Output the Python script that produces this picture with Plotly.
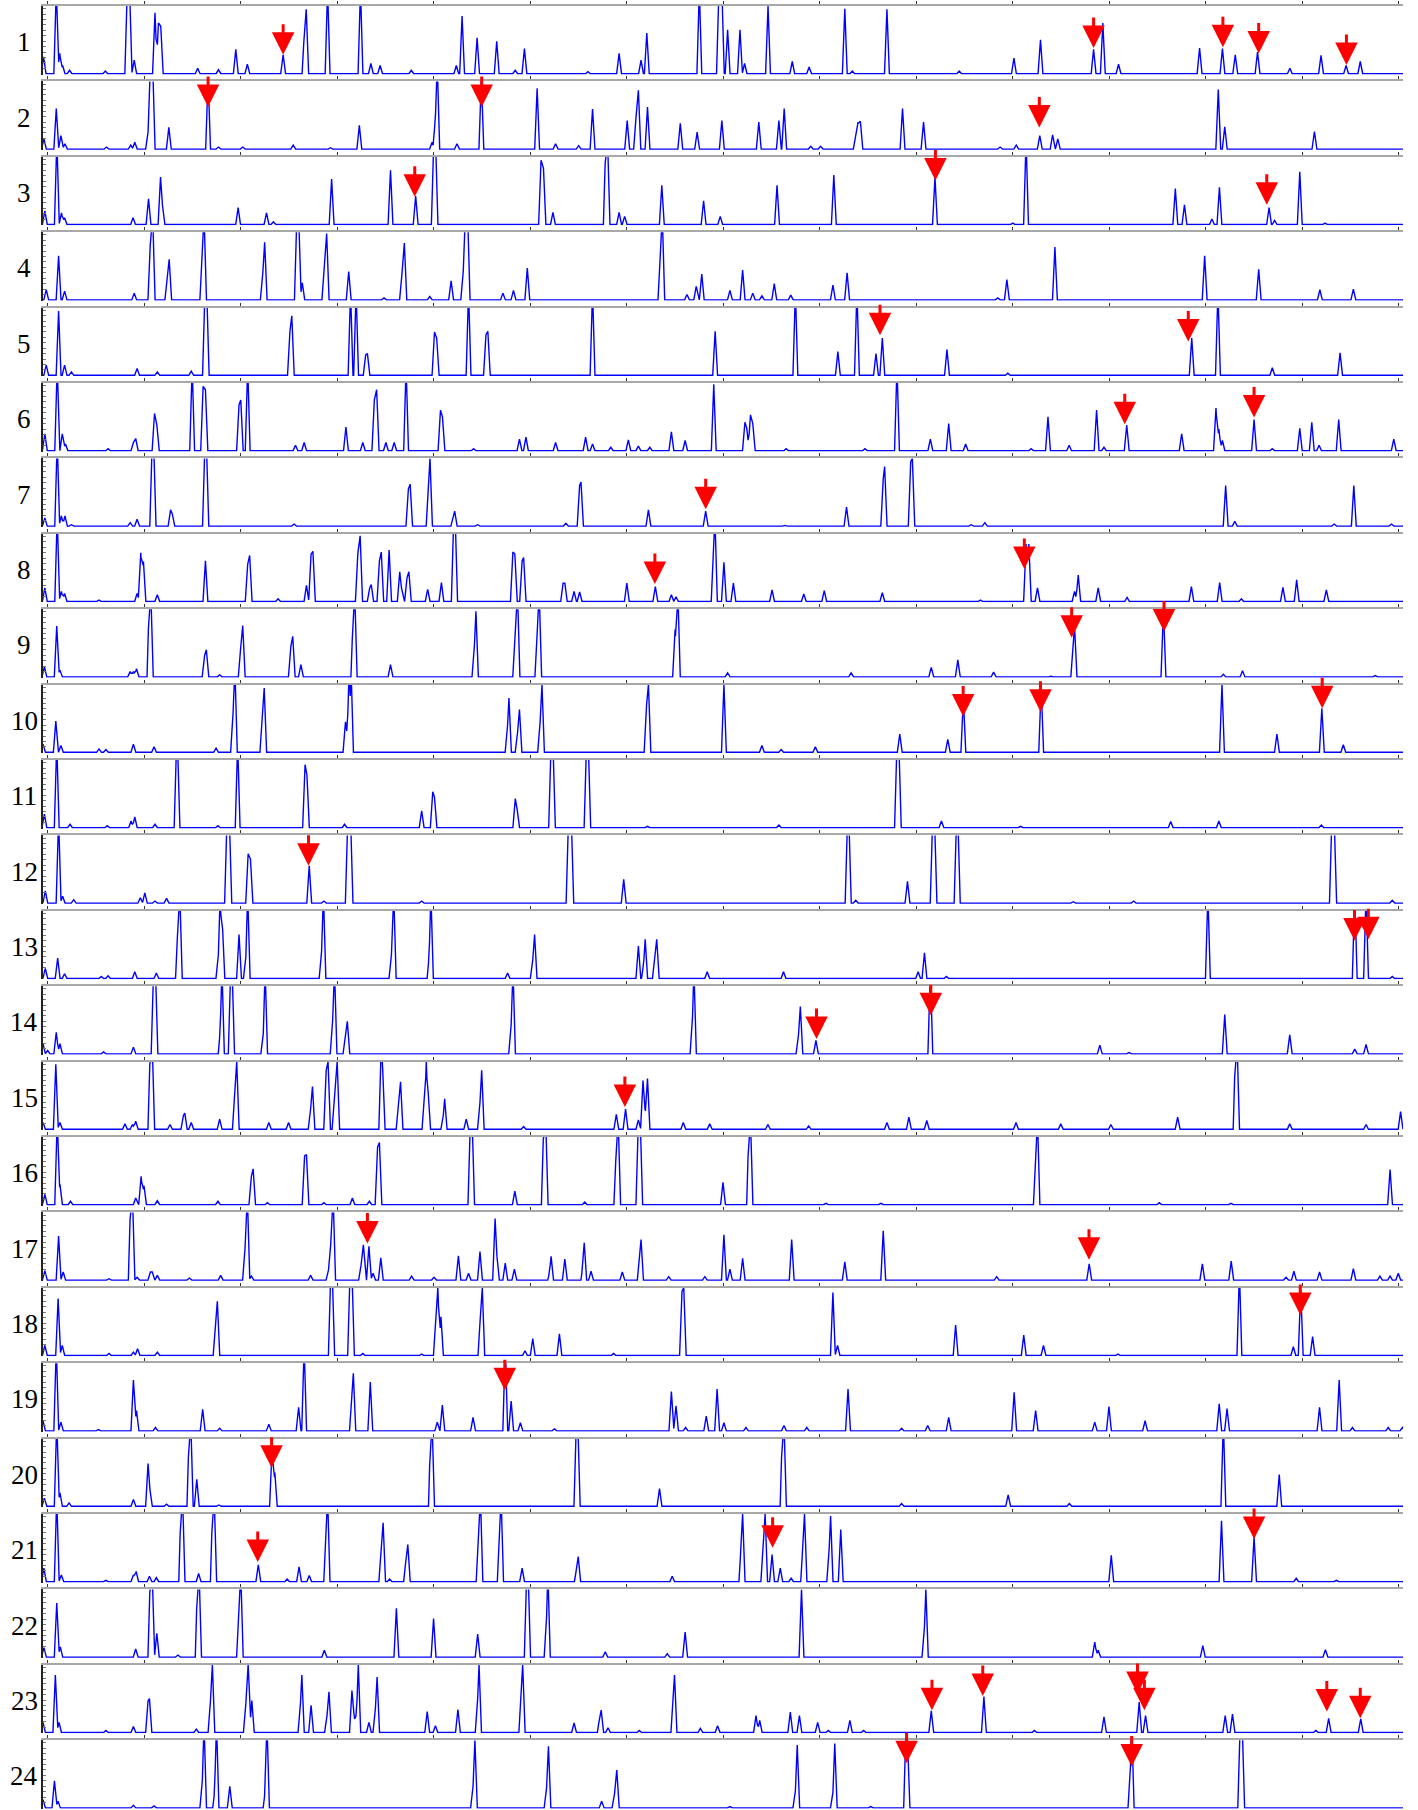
import numpy as np
import plotly.graph_objects as go

# ---------------------------------------------------------------
# Data: peaks per chromatogram row as (retention position, relative height)
# heights are relative to the panel height (values > 1 are off-scale / clipped)
# ---------------------------------------------------------------
peaks_01 = [(37.5,0.25),(48.5,1.25),(51.5,0.3),(54,0.12),(60,0.05),(91,0.04),(110,1.25),(112,1.25),(116,0.2),
            (134,0.9),(137,0.75),(139,0.7),(171,0.08),(189,0.06),(204,0.36),(214,0.14),(245,0.28),(263.5,0.65),
            (265,0.95),(283.5,1.25),(312,1.25),(321,0.15),(329,0.12),(356,0.05),(395,0.12),(400,0.85),(413,0.53),
            (430,0.48),(446,0.05),(454,0.37),(509,0.03),(536,0.3),(555,0.2),(560,0.6),(605.5,1.25),(622.5,1.25),
            (625,1.25),(630,0.65),(640.7,0.65),(644.7,0.15),(665,1.0),(686,0.18),(700.6,0.1),(731.5,0.96),(738,0.04),
            (768,0.95),(830.6,0.04),(878,0.23),(901,0.5),(947,0.36),(955,0.75),(968.6,0.14),(1038.8,0.38),
            (1058.6,0.37),(1069.7,0.28),(1089,0.32),(1117,0.08),(1144,0.27),(1165.7,0.12),(1178,0.18)]
peaks_02 = [(37.8,0.15),(48.5,0.6),(52.5,0.2),(56,0.08),(92,0.03),(113,0.06),(116.5,0.1),(128,0.25),(130,1.25),
            (132,1.25),(146,0.32),(180,1.05),(189,0.03),(210,0.03),(253.7,0.06),(286,0.02),(311,0.35),(374,0.1),
            (377,0.52),(378.5,1.25),(395.6,0.08),(416.7,1.05),(465,0.9),(481,0.08),(501,0.05),(513,0.59),(543,0.42),
            (550.7,0.48),(552.7,0.87),(560.6,0.62),(589,0.38),(603.6,0.25),(625,0.42),(657,0.4),(674.4,0.42),
            (679,0.6),(702,0.04),(710.5,0.04),(741,0.19),(743,0.4),(745,0.41),(781.5,0.6),(799.7,0.4),(866,0.03),
            (880,0.06),(900.4,0.2),(911.5,0.21),(916,0.15),(1055,0.88),(1060.6,0.33),(1138.3,0.26)]
peaks_03 = [(38.6,0.2),(49,1.25),(53,0.17),(55.7,0.1),(115,0.1),(128.4,0.38),(138.8,0.7),(140.5,0.28),(206,0.25),
            (230.6,0.17),(236.6,0.04),(287,0.67),(338,0.8),(359.8,0.42),(375.5,1.25),(377,1.25),(468.4,0.95),
            (470.5,0.83),(478.7,0.18),(524.5,1.25),(526,1.25),(536,0.18),(540.8,0.12),(573,0.58),(609.2,0.35),
            (623.6,0.12),(672.8,0.58),(722,0.73),(809.6,0.7),(877,0.02),(888.5,1.25),(1017.8,0.53),(1025.7,0.29),
            (1049.5,0.08),(1056,0.55),(1099,0.25),(1103.8,0.06),(1125.6,0.78),(1147.5,0.02)]
peaks_04 = [(39.8,0.15),(50.5,0.65),(55.7,0.13),(116,0.1),(130,0.85),(132,1.25),(144.7,0.4),(146.3,0.6),(175,0.72),
            (176.5,1.25),(227.4,0.4),(229,0.85),(256.9,1.25),(258.4,1.25),(261.6,0.25),(280.7,0.5),(282.7,0.98),
            (301.8,0.42),(332.4,0.03),(348,0.4),(350,0.84),(372,0.05),(390.5,0.28),(401,0.42),(402.8,1.25),
            (404.8,1.25),(435.4,0.1),(444.5,0.14),(456.5,0.47),(571.8,0.7),(573.4,1.25),(594.8,0.08),(602.8,0.2),
            (607.6,0.38),(632,0.14),(643,0.44),(651.8,0.1),(659.7,0.06),(670.4,0.24),(684.7,0.07),(721.2,0.22),
            (733.5,0.4),(864,0.03),(871.9,0.3),(913.5,0.78),(1043.2,0.65),(1090,0.45),(1143,0.15),(1172,0.16)]
peaks_05 = [(39.8,0.15),(50.5,0.95),(55.7,0.15),(61.6,0.05),(118.5,0.1),(136,0.05),(165.4,0.06),(177.3,1.25),
            (178.8,1.25),(250.9,0.65),(252.5,0.88),(303.4,1.25),(308.2,1.25),(316.5,0.3),(318,0.32),(376.1,0.64),
            (378,0.55),(405.6,1.25),(420.7,0.6),(422.3,0.65),(513,1.25),(619.2,0.65),(688.7,1.25),(725.5,0.35),
            (742,1.25),(758.5,0.32),(764,0.55),(820,0.38),(872.7,0.03),(1032,0.55),(1054.7,1.25),(1101.8,0.11),
            (1160.5,0.33)]
peaks_06 = [(38.6,0.25),(49.3,1.25),(53.7,0.25),(56.5,0.1),(93.4,0.03),(115.3,0.12),(117.3,0.18),(133.6,0.55),
            (135.6,0.38),(166.2,1.25),(175.7,0.95),(177.7,0.9),(206.8,0.68),(208.3,0.75),(214.3,1.25),(255.7,0.08),
            (263.2,0.12),(299.4,0.35),(314,0.12),(324,0.75),(326,0.9),(334,0.12),(341.2,0.12),(351.5,1.25),
            (381.3,0.6),(383,0.5),(410,0.03),(449.7,0.17),(455.3,0.2),(481,0.12),(507,0.2),(513,0.1),(528.8,0.05),
            (544,0.16),(552.7,0.07),(562.6,0.05),(581.3,0.28),(593.2,0.15),(618,0.98),(645,0.42),(646.6,0.33),
            (649.8,0.53),(651.8,0.4),(680.7,0.03),(749,0.03),(776.7,1.25),(805.6,0.17),(821.5,0.4),(836.2,0.1),
            (892.9,0.03),(907.5,0.5),(925.8,0.08),(949.6,0.6),(956,0.05),(975.7,0.38),(1023.3,0.25),(1053,0.63),
            (1055.5,0.32),(1058.6,0.15),(1086,0.46),(1101.8,0.03),(1125.6,0.33),(1136,0.42),(1142.3,0.08),
            (1159.3,0.46),(1207,0.17)]
peaks_07 = [(38.6,0.12),(49.3,1.25),(52.9,0.15),(56,0.15),(61.6,0.02),(112.5,0.05),(118.5,0.1),(131.6,1.25),
            (132.8,1.25),(147.5,0.24),(149,0.18),(177.3,1.25),(178.5,1.25),(254.5,0.03),(353.5,0.55),(355,0.62),
            (371,0.78),(372.2,1.0),(392.4,0.15),(393.6,0.22),(413.5,0.02),(489.9,0.04),(501.8,0.6),(503,0.65),
            (561.4,0.24),(611,0.22),(679.6,0.01),(733,0.28),(764.8,0.7),(766,0.88),(788.6,0.95),(790,1.0),(841,0.02),
            (852.8,0.05),(1061.4,0.6),(1069.3,0.07),(1155.4,0.03),(1172.4,0.6),(1205,0.03)]
peaks_08 = [(38.6,0.2),(49.3,1.25),(52.9,0.15),(55.7,0.12),(85.5,0.02),(118.5,0.12),(121.7,0.72),(124,0.59),
            (136,0.1),(177.7,0.6),(214.3,0.55),(216,0.68),(240.6,0.04),(265.2,0.24),(269.2,0.7),(270.8,0.74),
            (309.7,0.71),(311.7,0.97),(320,0.2),(321.3,0.25),(328.4,0.6),(330,0.73),(336.8,0.76),(346,0.44),
            (347.5,0.2),(352.3,0.35),(353.9,0.44),(370.2,0.18),(382.1,0.28),(392.8,1.25),(394,1.25),(444,0.73),
            (445.7,0.7),(452,0.6),(453.3,0.65),(487.5,0.27),(489,0.27),(497,0.15),(501.8,0.14),(542.7,0.27),
            (567.4,0.22),(581.3,0.1),(585.3,0.07),(617.9,0.7),(619,1.25),(626.8,0.58),(635,0.27),(668.5,0.17),
            (696,0.11),(713.7,0.16),(764,0.13),(849,0.02),(888.5,0.85),(890.9,0.85),(898.4,0.2),(930.5,0.15),
            (933.7,0.39),(951,0.2),(976,0.06),(1031.7,0.22),(1056.2,0.28),(1075,0.04),(1111,0.21),(1122.9,0.32),
            (1148.6,0.17)]
peaks_09 = [(38.2,0.15),(48.9,0.75),(51.7,0.1),(112.5,0.08),(115.3,0.08),(118,0.12),(129.2,1.25),(130.4,1.25),
            (177,0.32),(178.5,0.4),(190,0.03),(208.3,0.45),(210,0.76),(251.7,0.45),(253.3,0.6),(260.4,0.18),
            (305.8,0.98),(307,1.25),(338,0.18),(410.7,0.47),(412,0.97),(446,0.7),(448,1.25),(465.2,0.7),(466.8,1.25),
            (584.5,0.7),(586.9,1.25),(630,0.06),(737,0.06),(806.4,0.14),(829.4,0.25),(860.4,0.07),(910,0.01),
            (929.4,0.5),(930.5,0.75),(1007.5,0.99),(1059.4,0.04),(1076,0.09),(1191,0.02)]
peaks_10 = [(37,0.12),(48.1,0.46),(52.5,0.1),(85.5,0.05),(91.5,0.04),(115.3,0.12),(133.2,0.08),(186.9,0.06),
            (201.6,0.57),(203.2,1.25),(227,0.55),(228.6,0.95),(299,0.45),(301,0.55),(302.2,1.25),(303.8,1.25),
            (439.4,0.4),(440.6,0.8),(448.1,0.3),(449.7,0.63),(467.6,0.45),(469.2,1.0),(559.8,0.7),(561.4,1.0),
            (626.8,1.0),(659.7,0.1),(676.4,0.04),(706,0.08),(779.1,0.27),(820.7,0.19),(834.2,0.8),(901.6,0.98),
            (1058.2,1.0),(1105.8,0.27),(1144.7,0.65),(1163.3,0.11)]
peaks_11 = [(38.2,0.2),(48.9,1.25),(60.4,0.05),(92.6,0.03),(113.3,0.1),(116.5,0.16),(134,0.05),(152.7,1.25),
            (153.5,1.25),(188.5,0.03),(205.6,1.25),(264,0.93),(265.6,0.78),(298.2,0.05),(365,0.25),(374.6,0.53),
            (376.1,0.45),(446.1,0.43),(447.7,0.27),(477.1,1.25),(478.7,1.25),(507.8,1.25),(509.3,1.25),(560.6,0.02),
            (674.4,0.04),(776.7,1.25),(778.3,1.25),(815.2,0.1),(883.8,0.02),(1013.8,0.09),(1055.5,0.1),(1144.3,0.04)]
peaks_12 = [(39,0.18),(50.5,1.25),(54,0.1),(63.6,0.05),(121.3,0.08),(125.2,0.15),(134,0.03),(144,0.07),
            (196.4,1.25),(198.4,1.25),(214.7,0.73),(216.7,0.65),(267.6,0.55),(280.3,0.03),(301,1.25),(303.4,1.25),
            (365,0.03),(492.2,1.25),(494.6,1.25),(540,0.35),(733.9,1.25),(735,1.25),(741,0.04),(785.8,0.32),
            (807.6,1.25),(809.2,1.25),(828.3,1.25),(829.4,1.25),(929.4,0.02),(981.7,0.03),(1153.4,1.25),
            (1155.4,1.25),(1205.7,0.04)]
peaks_13 = [(39,0.15),(49.7,0.3),(55.7,0.07),(87.5,0.03),(93.4,0.04),(116.5,0.1),(135.2,0.08),(153.9,0.8),
            (155.5,1.25),(188.9,0.35),(190.5,1.25),(192.4,0.8),(206.8,0.65),(212.7,0.32),(214.3,1.25),(278.3,0.4),
            (279.9,1.25),(338.8,0.35),(340.8,1.25),(371.8,0.4),(373,1.25),(439.4,0.08),(461.2,0.27),(462.8,0.65),
            (552.7,0.48),(557.5,0.25),(558.6,0.58),(567,0.35),(568.6,0.58),(612.3,0.1),(678.4,0.1),(795,0.1),
            (800.5,0.38),(819.5,0.03),(1046,1.25),(1173.2,1.25),(1183,1.25),(1205.7,0.03)]
peaks_14 = [(37,0.15),(41,0.05),(48.5,0.32),(51.7,0.15),(89.5,0.03),(115.3,0.1),(132.8,1.25),(134.4,1.25),
            (190.9,0.42),(192,1.25),(199.6,1.25),(200.8,1.25),(227.8,0.3),(229.4,1.25),(287.9,0.5),(289.5,1.25),
            (299,0.27),(300.6,0.48),(442.5,0.43),(444.1,1.25),(599.6,0.55),(600.8,1.25),(691.4,0.28),(693,0.7),
            (706.5,0.2),(805.6,1.25),(952.4,0.13),(977.7,0.02),(1060.6,0.58),(1116.9,0.28),(1173.2,0.07),(1183,0.14)]
peaks_15 = [(37,0.1),(48.1,0.96),(51.7,0.1),(108,0.08),(114.5,0.07),(117.3,0.12),(130,1.25),(131.6,1.25),(147,0.07),
            (158.6,0.2),(159.8,0.24),(165.4,0.1),(190,0.15),(203.2,0.65),(204.8,1.0),(232.6,0.1),(249.7,0.1),
            (268.8,0.3),(270.4,0.63),(282.3,0.87),(283.9,1.0),(289.5,0.5),(291.8,1.0),(330,1.25),(331.2,0.9),
            (345,0.4),(346.7,0.7),(367.4,0.45),(369,1.0),(370.6,0.55),(383.7,0.2),(384.9,0.45),(403.6,0.15),
            (415.5,0.4),(417,0.87),(453.3,0.04),(533.6,0.22),(541.6,0.3),(552.7,0.14),(556.7,0.72),(558.6,0.3),
            (560.6,0.75),(591.6,0.1),(614.5,0.08),(664.9,0.07),(700.2,0.05),(768,0.1),(787,0.18),(802.5,0.13),
            (879.8,0.1),(918.6,0.08),(962,0.07),(1019.8,0.18),(1070,1.25),(1071.3,1.25),(1116.9,0.08),(1183,0.07),
            (1212.9,0.26)]
peaks_16 = [(38.6,0.15),(49.3,1.25),(51.7,0.3),(60.8,0.05),(117.3,0.1),(122,0.42),(124.5,0.28),(136,0.06),
            (188.5,0.05),(217.5,0.42),(219,0.53),(231.4,0.03),(263.6,0.72),(265.2,0.74),(280.3,0.03),(305,0.1),
            (319.7,0.05),(326.8,0.85),(328.4,0.92),(407.2,1.25),(408.7,1.25),(445.7,0.2),(470.8,1.25),(472.4,1.25),
            (506.2,0.04),(533.6,0.85),(535.2,1.25),(552.7,1.25),(554.3,1.25),(626,0.33),(648.6,1.25),(649.8,1.25),
            (715.2,0.02),(762.8,0.02),(897,0.9),(898.4,1.25),(1003.9,0.03),(1066,0.02),(1203.8,0.52)]
peaks_17 = [(38.6,0.14),(50.5,0.65),(54.5,0.12),(94.2,0.02),(113,1.25),(114.5,1.25),(118.5,0.04),(130,0.12),
            (131.6,0.12),(136,0.07),(163.8,0.03),(190.9,0.07),(212,0.47),(214,1.25),(217.5,0.06),(268.8,0.07),
            (284.3,0.15),(286.3,0.55),(288.3,1.25),(312.5,0.22),(314.5,0.52),(319.3,0.5),(322.9,0.1),(329.6,0.33),
            (356.3,0.06),(375.7,0.04),(396.8,0.36),(405.6,0.1),(415.5,0.42),(428.6,0.91),(430.2,0.35),(437.4,0.25),
            (445.3,0.16),(476.3,0.15),(477.1,0.35),(489,0.31),(505,0.25),(505.8,0.55),(511.7,0.13),(538.8,0.12),
            (553.9,0.33),(555,0.6),(579,0.05),(610.3,0.05),(626.8,0.67),(632,0.16),(643,0.32),(685.5,0.6),
            (731.5,0.27),(764.8,0.73),(863.1,0.05),(943.2,0.24),(1041.2,0.24),(1066.2,0.28),(1113.7,0.04),
            (1120.5,0.13),(1142.7,0.12),(1172,0.17),(1195,0.06),(1203.8,0.06),(1210.9,0.1)]
peaks_18 = [(38.6,0.15),(50.1,0.84),(53.7,0.15),(94.2,0.03),(115.3,0.05),(118.9,0.1),(136,0.05),(186.5,0.55),
            (188,0.8),(286.3,1.25),(287.5,1.25),(303,1.25),(304.6,1.25),(314,0.03),(365,0.02),(377.3,0.5),(379,1.0),
            (381.7,0.57),(415.9,0.6),(417.5,1.0),(454.5,0.07),(461.2,0.25),(484.3,0.32),(531.2,0.03),(590.5,0.95),
            (592,1.0),(721.2,0.93),(725.2,0.15),(827.5,0.45),(886.5,0.3),(903.6,0.15),(968.2,0.02),(1073.3,1.25),
            (1120,0.13),(1126.4,0.98),(1136.7,0.28)]
peaks_19 = [(37,0.15),(48.5,1.25),(52.5,0.13),(85,0.02),(115.3,0.75),(118,0.3),(134.4,0.05),(175.3,0.32),(190,0.04),
            (232.6,0.1),(258.4,0.35),(263.2,1.25),(304.6,0.65),(305.8,0.85),(320.5,0.72),(378.5,0.13),(382.9,0.38),
            (409.5,0.2),(437.4,1.25),(442.5,0.44),(450.5,0.12),(480,0.03),(581.3,0.58),(585.3,0.37),(593.6,0.05),
            (611.5,0.22),(620.9,0.62),(626.8,0.12),(645.9,0.05),(678.8,0.08),(698.6,0.05),(734.3,0.62),(780.7,0.04),
            (803.3,0.08),(821.5,0.2),(878.2,0.57),(896.8,0.3),(948,0.13),(960.3,0.36),(991.6,0.15),(1055.8,0.4),
            (1062.6,0.33),(1142.7,0.35),(1159.7,0.75),(1171.2,0.05),(1202.2,0.05),(1214.5,0.05)]
peaks_20 = [(38.2,0.12),(48.9,1.25),(51.7,0.2),(59.6,0.05),(115.3,0.1),(128,0.63),(129.6,0.25),(144,0.03),
            (163.8,1.25),(165,1.25),(170.2,0.4),(189.3,0.02),(235.4,0.85),(237.8,0.5),(373,1.25),(374,1.25),
            (499,1.25),(500.2,1.25),(571,0.26),(677.6,1.25),(678.8,1.25),(780.7,0.04),(873,0.17),(926,0.04),
            (1059.4,1.25),(1107.8,0.47)]
peaks_21 = [(37.8,0.2),(48.9,1.25),(52.9,0.1),(91.5,0.02),(115.3,0.1),(117.7,0.15),(129.2,0.08),(135.2,0.06),
            (156.7,1.25),(157.9,1.25),(171.8,0.12),(184.1,1.25),(185.3,1.25),(223.5,0.25),(248.5,0.04),(258.8,0.22),
            (267.6,0.09),(282.3,0.72),(283.5,1.25),(330,0.5),(331.6,0.87),(337.2,0.04),(351.5,0.35),(353,0.55),
            (414.3,0.82),(415.9,1.25),(432.6,0.75),(433.8,1.25),(452,0.2),(499.4,0.22),(500.6,0.37),(582,0.08),
            (641.9,0.6),(643,1.0),(660.9,0.55),(662.5,1.0),(668.5,0.4),(675.6,0.2),(685,0.05),(695.4,0.6),
            (696.6,1.0),(718,0.5),(719.2,0.97),(728,0.77),(962.3,0.39),(1057.8,0.9),(1086,0.66),(1122.5,0.05),
            (1157.3,0.02)]
peaks_22 = [(37.8,0.14),(48.9,0.8),(52,0.15),(117.3,0.12),(130,1.25),(131.6,1.25),(135.6,0.35),(153.9,0.03),
            (171,1.25),(172.2,1.25),(206.8,0.7),(208.3,1.25),(280.7,0.1),(343.1,0.72),(375.3,0.57),(413.5,0.34),
            (456,1.25),(457.2,1.25),(473.2,0.57),(474.3,1.25),(524,0.08),(577.7,0.05),(593.2,0.37),(694,1.0),
            (800.5,0.45),(801.7,1.0),(948,0.22),(951,0.1),(1041.6,0.17),(1147.8,0.11)]
peaks_23 = [(37,0.15),(47.7,0.85),(50.9,0.15),(91.5,0.03),(115.3,0.09),(128,0.47),(129.2,0.5),(169.8,0.05),
            (182.1,0.48),(183.7,1.0),(212.7,0.43),(214.7,1.0),(217.9,0.47),(260,0.43),(261.2,0.85),(269.2,0.4),
            (283,0.25),(284.7,0.6),(304.6,0.62),(306.2,0.3),(309,0.45),(310.1,1.0),(319.3,0.15),(324.9,0.35),
            (326.4,0.82),(369.8,0.31),(376.9,0.1),(396.4,0.34),(413.5,0.5),(414.7,1.0),(451.3,0.55),(452.5,1.0),
            (497,0.14),(519.3,0.25),(520.5,0.33),(526.4,0.07),(553.5,0.03),(583,0.48),(584,0.85),(606.4,0.06),
            (621.3,0.1),(654.6,0.25),(657.8,0.18),(684.3,0.3),(692.2,0.25),(708,0.15),(717.2,0.03),(735.9,0.18),
            (747.8,0.03),(806.4,0.32),(852,0.53),(895.7,0.03),(956,0.23),(986.5,0.45),(992,0.25),(1061,0.25),
            (1067.3,0.27),(1139.5,0.03),(1150.6,0.21),(1178.4,0.2)]
peaks_24 = [(37,0.12),(46.9,0.4),(50,0.1),(115.3,0.04),(133.2,0.03),(175,0.4),(176.5,1.25),(186.1,0.3),(187.3,1.25),
            (198.8,0.32),(229.8,0.3),(231,1.25),(409.5,0.32),(411.1,1.0),(473.2,0.3),(474.8,0.91),(520.9,0.1),
            (532,0.2),(534,0.56),(632,0.02),(688.7,0.25),(690.3,0.93),(721.2,0.2),(722.8,0.95),(754,0.02),
            (784.6,1.25),(785.8,1.0),(978.9,0.6),(980,1.25),(1074,1.25),(1075.7,1.25)]

# red marker arrows: (retention position, height of arrow tip)
arrows_01 = [(245,0.28),(947,0.38),(1059,0.39),(1090,0.3),(1166,0.13)]
arrows_02 = [(180,0.62),(417,0.62),(900,0.32)]
arrows_03 = [(359,0.41),(810,0.65),(1097,0.29)]
arrows_04 = []
arrows_05 = [(762,0.59),(1029,0.5)]
arrows_06 = [(974,0.39),(1086,0.49)]
arrows_07 = [(611,0.25)]
arrows_08 = [(567,0.26),(887,0.48)]
arrows_09 = [(928,0.58),(1008,0.67)]
arrows_10 = [(834,0.53),(901,0.6),(1145,0.65)]
arrows_11 = []
arrows_12 = [(267,0.55)]
arrows_13 = [(1173,0.56),(1185,0.58)]
arrows_14 = [(707,0.22),(806,0.57)]
arrows_15 = [(541,0.33)]
arrows_16 = []
arrows_17 = [(318,0.54),(943,0.3)]
arrows_18 = [(1126,0.6)]
arrows_19 = [(437,0.6)]
arrows_20 = [(235,0.57)]
arrows_21 = [(223,0.29),(669,0.5),(1086,0.63)]
arrows_22 = []
arrows_23 = [(807,0.33),(851,0.54),(985,0.57),(991,0.33),(1149,0.31),(1178,0.21)]
arrows_24 = [(785,0.66),(980,0.61)]

row_labels = ["1","2","3","4","5","6","7","8","9","10","11","12",
              "13","14","15","16","17","18","19","20","21","22","23","24"]

# ---------------------------------------------------------------
panels = [peaks_01,peaks_02,peaks_03,peaks_04,peaks_05,peaks_06,peaks_07,peaks_08,
          peaks_09,peaks_10,peaks_11,peaks_12,peaks_13,peaks_14,peaks_15,peaks_16,
          peaks_17,peaks_18,peaks_19,peaks_20,peaks_21,peaks_22,peaks_23,peaks_24]
arrow_sets = [arrows_01,arrows_02,arrows_03,arrows_04,arrows_05,arrows_06,arrows_07,arrows_08,
              arrows_09,arrows_10,arrows_11,arrows_12,arrows_13,arrows_14,arrows_15,arrows_16,
              arrows_17,arrows_18,arrows_19,arrows_20,arrows_21,arrows_22,arrows_23,arrows_24]

W, H = 1418, 1810
X_LEFT_PX, X_RIGHT_PX = 43, 1403
TOP0, PITCH, PANEL_H = 6, 75.4, 68.5
X_MIN, X_MAX = 37, 1215
HALF_W = 2.1  # half base width of a drawn peak, in position units

fig = go.Figure()
layout = dict(width=W, height=H, margin=dict(l=0, r=0, t=0, b=0),
              paper_bgcolor="white", plot_bgcolor="white", showlegend=False)
annotations = []

for i, (pk, ar, lab) in enumerate(zip(panels, arrow_sets, row_labels), start=1):
    sfx = "" if i == 1 else str(i)
    pos = np.array([p for p, _ in pk], dtype=float)
    ht = np.array([h for _, h in pk], dtype=float)
    xs = np.unique(np.concatenate([pos - HALF_W, pos, pos + HALF_W, [X_MIN, X_MAX]]))
    prof = ht[None, :] * np.clip(1 - np.abs(xs[:, None] - pos[None, :]) / HALF_W, 0, None)
    ys = prof.max(axis=1)
    fig.add_trace(go.Scatter(x=xs, y=ys, mode="lines",
                             line=dict(color="#0000ff", width=1.4),
                             xaxis="x" + sfx, yaxis="y" + sfx,
                             hoverinfo="skip", showlegend=False))

    top = TOP0 + PITCH * (i - 1)
    base = top + PANEL_H
    layout["xaxis" + sfx] = dict(domain=[X_LEFT_PX / W, X_RIGHT_PX / W], range=[X_MIN, X_MAX],
                                 anchor="y" + sfx, side="top", showline=True, linecolor="#a8a8a8",
                                 linewidth=2, ticks="outside", ticklen=3, tickcolor="#333",
                                 tickwidth=1, tick0=41, dtick=83.6, showticklabels=False,
                                 showgrid=False, zeroline=False)
    layout["yaxis" + sfx] = dict(domain=[max(0, 1 - base / H), 1 - top / H], range=[-0.012, 1.0],
                                 anchor="x" + sfx, showline=True, linecolor="#222", linewidth=1.5,
                                 ticks="inside", ticklen=3, tickcolor="#777", tickwidth=1,
                                 dtick=0.08, showticklabels=False, showgrid=False, zeroline=False)

    annotations.append(dict(text=lab, x=24 / W, y=1 - ((top + base) / 2 + 2) / H,
                            xref="paper", yref="paper", showarrow=False,
                            xanchor="center", yanchor="middle",
                            font=dict(family="Liberation Serif, Times New Roman, serif",
                                      size=27, color="black")))
    for (ap, at) in ar:
        annotations.append(dict(x=ap, y=at, xref="x" + sfx, yref="y" + sfx, text="",
                                font=dict(size=1), borderpad=0,
                                showarrow=True, ax=0, ay=-31, arrowhead=2, arrowsize=1.5,
                                arrowwidth=3, arrowcolor="#ff0000", standoff=0))

layout["annotations"] = annotations
fig.update_layout(**layout)
fig.write_html("out.html")
